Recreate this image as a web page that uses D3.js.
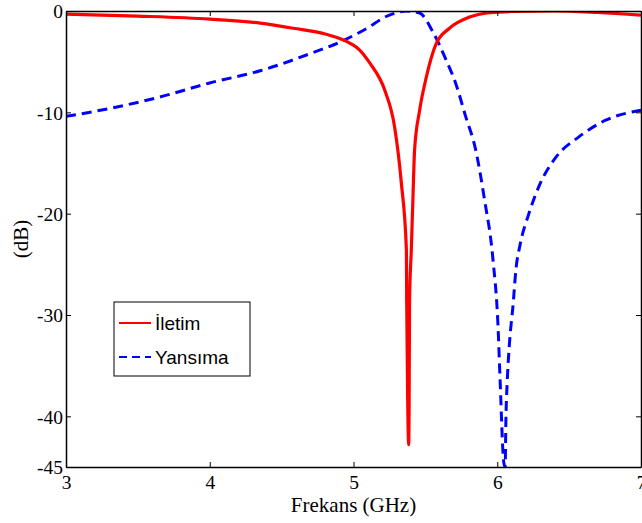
<!DOCTYPE html>
<html>
<head>
<meta charset="utf-8">
<script src="https://cdn.jsdelivr.net/npm/d3@7"></script>
<style>
  body { margin: 0; background: #fff; }
  svg { display: block; }
</style>
</head>
<body>
<svg id="chart" width="642" height="523"></svg>
<script>
// frequency (GHz) / level (dB)
var iletimFreq = [3.0, 3.5, 4.0, 4.35, 4.58, 4.81, 4.974, 5.043, 5.113, 5.217, 5.286, 5.333, 5.368, 5.37, 5.377, 5.384, 5.387, 5.39, 5.402, 5.413, 5.425, 5.46, 5.507, 5.576, 5.668, 5.807, 5.946, 6.1, 6.4, 6.7, 7.0];
var iletimDb = [-0.3, -0.5, -0.8, -1.2, -1.7, -2.3, -3.16, -3.85, -5.13, -7.8, -11.45, -17.0, -23.6, -28.5, -38.4, -42.8, -38.4, -28.5, -23.6, -18.7, -13.7, -9.8, -6.5, -3.2, -1.7, -0.6, -0.17, -0.05, 0, -0.15, -0.4];

var yansimaFreq = [3.0, 3.31, 3.65, 4.0, 4.35, 4.70, 4.90, 5.07, 5.25, 5.37, 5.46, 5.55, 5.64, 5.71, 5.78, 5.85, 5.91, 5.97, 6.005, 6.02, 6.045, 6.055, 6.06, 6.07, 6.085, 6.11, 6.13, 6.16, 6.22, 6.29, 6.41, 6.57, 6.75, 7.0];
var yansimaDb = [-10.4, -9.6, -8.5, -7.1, -5.9, -4.2, -3.1, -1.9, -0.4, 0, -0.2, -2.0, -4.7, -7.1, -10.4, -13.7, -18.5, -24.5, -31, -36.5, -44.5, -45, -40.5, -36.4, -32.8, -29, -25.5, -23, -20, -17.3, -14.4, -12.4, -10.8, -9.8];

var xTicks = [3, 4, 5, 6, 7];
var yTicks = [0, -10, -20, -30, -40, -45];
var seriesNames = ["İletim", "Yansıma"];

var svg = d3.select("#chart");
var margin = { top: 11, left: 66, right: 1, bottom: 56 };
var width = 642, height = 523;
var innerW = width - margin.left - margin.right;
var innerH = height - margin.top - margin.bottom;

var xScale = d3.scaleLinear().domain([3, 7]).range([0, innerW]);
var yScale = d3.scaleLinear().domain([-45, 0]).range([innerH, 0]);

var g = svg.append("g").attr("transform", `translate(${margin.left},${margin.top})`);

g.append("clipPath").attr("id", "plot-clip")
  .append("rect").attr("width", innerW).attr("height", innerH);

var line = d3.line()
  .x(function (d) { return xScale(d[0]); })
  .y(function (d) { return yScale(d[1]); })
  .curve(d3.curveMonotoneX);

var plot = g.append("g").attr("clip-path", "url(#plot-clip)");

plot.append("path")
  .datum(d3.zip(yansimaFreq, yansimaDb))
  .attr("d", line)
  .attr("fill", "none")
  .attr("stroke", "#0000ff")
  .attr("stroke-width", 3)
  .attr("stroke-dasharray", "10,6");

plot.append("path")
  .datum(d3.zip(iletimFreq, iletimDb))
  .attr("d", line)
  .attr("fill", "none")
  .attr("stroke", "#ff0000")
  .attr("stroke-width", 3.2);

// axes with inward ticks, mirrored on top and right
var fontSerif = "'Liberation Serif', 'Times New Roman', serif";

var xAxis = d3.axisBottom(xScale).tickValues(xTicks).tickFormat(d3.format("d")).tickSizeInner(-5).tickSizeOuter(0).tickPadding(8);
var yAxis = d3.axisLeft(yScale).tickValues(yTicks).tickFormat(function (d) { return d; }).tickSizeInner(-5).tickSizeOuter(0).tickPadding(3);

var xg = g.append("g").attr("transform", `translate(0,${innerH})`).call(xAxis);
var yg = g.append("g").call(yAxis);
g.append("g").call(d3.axisTop(xScale).tickValues(xTicks).tickFormat("").tickSizeInner(-5).tickSizeOuter(0));
g.append("g").attr("transform", `translate(${innerW},0)`)
  .call(d3.axisRight(yScale).tickValues(yTicks).tickFormat("").tickSizeInner(-5).tickSizeOuter(0));

g.selectAll(".domain").attr("stroke", "#000").attr("stroke-width", 1.5);
g.selectAll(".tick line").attr("stroke", "#000");
[xg, yg].forEach(function (a) {
  a.selectAll("text").attr("font-family", fontSerif).attr("font-size", 19.5).attr("fill", "#000");
});
xg.selectAll("text").attr("dy", "0.71em");
yg.selectAll("text").attr("dy", "0.35em");

// axis titles
svg.append("text")
  .attr("x", margin.left + xScale(5))
  .attr("y", 512)
  .attr("text-anchor", "middle")
  .attr("font-family", fontSerif)
  .attr("font-size", 21)
  .text("Frekans (GHz)");

svg.append("text")
  .attr("transform", `translate(28,${margin.top + innerH / 2}) rotate(-90)`)
  .attr("text-anchor", "middle")
  .attr("font-family", fontSerif)
  .attr("font-size", 21)
  .text("(dB)");

// legend
var legend = svg.append("g").attr("transform", "translate(114,302)");
legend.append("rect")
  .attr("width", 136).attr("height", 74)
  .attr("fill", "#fff").attr("stroke", "#000").attr("stroke-width", 1);

var legendColors = ["#ff0000", "#0000ff"];
var legendDash = [null, "8,5"];
seriesNames.forEach(function (name, i) {
  var yy = 21 + i * 34;
  legend.append("line")
    .attr("x1", 5).attr("x2", 37).attr("y1", yy).attr("y2", yy)
    .attr("stroke", legendColors[i]).attr("stroke-width", 2)
    .attr("stroke-dasharray", legendDash[i]);
  legend.append("text")
    .attr("x", 41).attr("y", yy).attr("dy", "0.35em")
    .attr("font-family", "'Liberation Sans', Arial, sans-serif")
    .attr("font-size", 19)
    .text(name);
});
</script>
</body>
</html>
